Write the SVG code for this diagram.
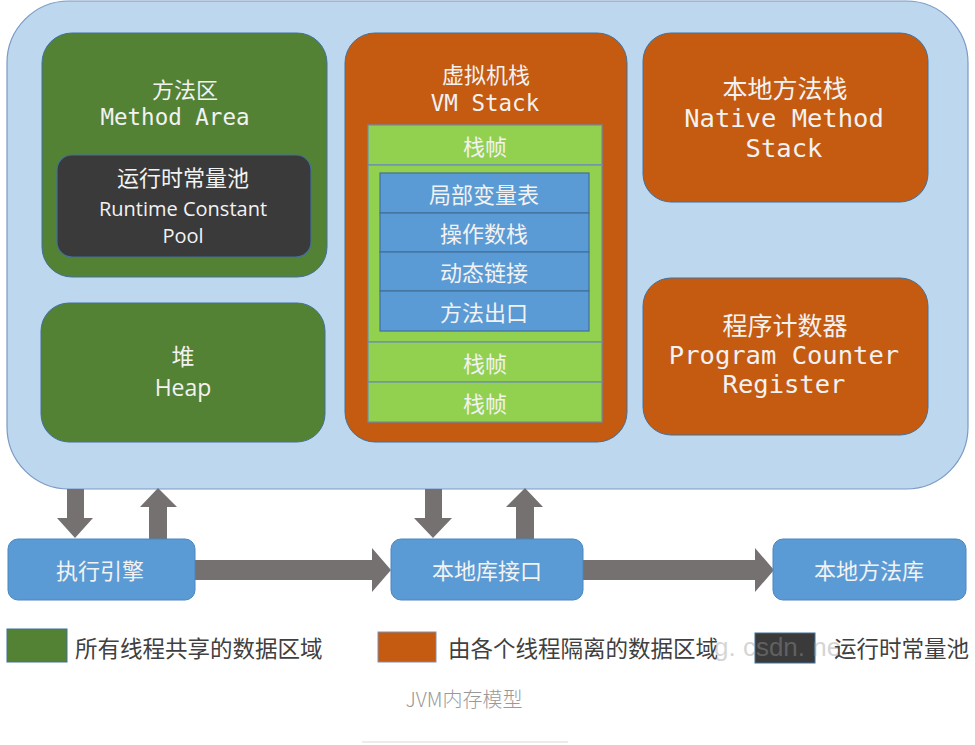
<svg xmlns="http://www.w3.org/2000/svg" width="975" height="745" viewBox="0 0 975 745">
<style>
.cjk{font-family:"Noto Sans CJK SC","Noto Sans",sans-serif;fill:#F2F2F2;text-anchor:middle}
.mono{font-family:"DejaVu Sans Mono","Liberation Mono",monospace;fill:#F2F2F2;text-anchor:middle}
.sans{font-family:"Open Sans","Liberation Sans","Noto Sans CJK SC",sans-serif;fill:#F2F2F2;text-anchor:middle}
.green{fill:#548235;stroke:#41719C;stroke-width:1}
.orange{fill:#C55A11;stroke:#41719C;stroke-width:1}
.dark{fill:#3A3A3A;stroke:#41719C;stroke-width:1.2}
.lg{fill:#92D050;stroke:#6A8DB5;stroke-width:1.2}
.blue{fill:#5B9BD5;stroke:#41719C;stroke-width:1.2}
.bbox{fill:#5B9BD5;stroke:#4A86C0;stroke-width:1}
.arrow{fill:#767171}
.legend{font-family:"Noto Sans CJK SC","Noto Sans",sans-serif;fill:#404040;font-size:22.5px}
</style>

<g id="runtime-data-area">
  <rect x="7" y="1" width="961" height="488" rx="62" ry="62" fill="#BDD7EE" stroke="#7A9AC4" stroke-width="1.2"/>
</g>

<g id="method-area">
  <rect class="green" x="42" y="33" width="285" height="244" rx="30"/>
  <text class="cjk" x="185" y="98" font-size="22">方法区</text>
  <text class="mono" x="175" y="125" font-size="22.5">Method Area</text>
</g>

<g id="runtime-constant-pool">
  <rect class="dark" x="57" y="155" width="254" height="102" rx="15"/>
  <text class="cjk" x="183" y="186" font-size="22">运行时常量池</text>
  <text class="sans" x="183" y="216" font-size="20">Runtime Constant</text>
  <text class="sans" x="183" y="243" font-size="20">Pool</text>
</g>

<g id="heap">
  <rect class="green" x="41" y="303" width="284" height="139" rx="28"/>
  <text class="cjk" x="183" y="365" font-size="23">堆</text>
  <text class="sans" x="183" y="396" font-size="23">Heap</text>
</g>

<g id="vm-stack">
  <rect class="orange" x="345" y="33" width="282" height="409" rx="30"/>
  <text class="cjk" x="486" y="83" font-size="22">虚拟机栈</text>
  <text class="mono" x="485" y="111" font-size="22.5">VM Stack</text>
</g>

<g id="stack-frame-1">
  <rect class="lg" x="368" y="125" width="234" height="40"/>
  <text class="cjk" x="485" y="145" font-size="22" dominant-baseline="central">栈帧</text>
</g>

<g id="stack-frame-current">
  <rect class="lg" x="368" y="165" width="234" height="177"/>
</g>
<g id="local-variables">
  <rect class="blue" x="380" y="173" width="209" height="40"/>
  <text class="cjk" x="484" y="193" font-size="22" dominant-baseline="central">局部变量表</text>
</g>
<g id="operand-stack">
  <rect class="blue" x="380" y="213" width="209" height="39"/>
  <text class="cjk" x="484" y="232" font-size="22" dominant-baseline="central">操作数栈</text>
</g>
<g id="dynamic-linking">
  <rect class="blue" x="380" y="252" width="209" height="39"/>
  <text class="cjk" x="484" y="271" font-size="22" dominant-baseline="central">动态链接</text>
</g>
<g id="return-address">
  <rect class="blue" x="380" y="291" width="209" height="40"/>
  <text class="cjk" x="484" y="311" font-size="22" dominant-baseline="central">方法出口</text>
</g>

<g id="stack-frame-2">
  <rect class="lg" x="368" y="342" width="234" height="40"/>
  <text class="cjk" x="485" y="362" font-size="22" dominant-baseline="central">栈帧</text>
</g>
<g id="stack-frame-3">
  <rect class="lg" x="368" y="382" width="234" height="40"/>
  <text class="cjk" x="485" y="402" font-size="22" dominant-baseline="central">栈帧</text>
</g>

<g id="native-method-stack">
  <rect class="orange" x="643" y="33" width="285" height="169" rx="28"/>
  <text class="cjk" x="785" y="98" font-size="25">本地方法栈</text>
  <text class="mono" x="784" y="127" font-size="25.5">Native Method</text>
  <text class="mono" x="784" y="157" font-size="25.5">Stack</text>
</g>

<g id="program-counter-register">
  <rect class="orange" x="643" y="278" width="285" height="157" rx="28"/>
  <text class="cjk" x="785" y="335" font-size="25">程序计数器</text>
  <text class="mono" x="784" y="364" font-size="25.5">Program Counter</text>
  <text class="mono" x="784" y="393" font-size="25.5">Register</text>
</g>

<g id="connectors">
  <polygon class="arrow" points="67,489 84,489 84,518 93,518 75,538 57,518 67,518"/>
  <polygon class="arrow" points="158,488 177,507 167,507 167,539 149,539 149,507 140,507"/>
  <polygon class="arrow" points="425,489 442,489 442,518 452,518 433,538 414,518 425,518"/>
  <polygon class="arrow" points="525,488 543,507 534,507 534,539 516,539 516,507 506,507"/>
  <polygon class="arrow" points="195,560 372,560 372,548 391,570 372,592 372,580 195,580"/>
  <polygon class="arrow" points="583,560 755,560 755,548 774,570 755,592 755,580 583,580"/>
</g>

<g id="execution-engine">
  <rect class="bbox" x="8" y="539" width="187" height="61" rx="10"/>
  <text class="cjk" x="100" y="569" font-size="22" dominant-baseline="central">执行引擎</text>
</g>
<g id="native-interface">
  <rect class="bbox" x="391" y="539" width="192" height="61" rx="10"/>
  <text class="cjk" x="487" y="569" font-size="22" dominant-baseline="central">本地库接口</text>
</g>
<g id="native-libraries">
  <rect class="bbox" x="773" y="539" width="193" height="61" rx="10"/>
  <text class="cjk" x="869" y="569" font-size="22" dominant-baseline="central">本地方法库</text>
</g>

<g id="legend">
  <rect x="7" y="629" width="60" height="33" fill="#548235" stroke="#41719C" stroke-width="1"/>
  <text class="legend" x="75" y="647" dominant-baseline="central">所有线程共享的数据区域</text>
  <rect x="378" y="632" width="58" height="30" fill="#C55A11" stroke="#7F8FB0" stroke-width="1"/>
  <text class="legend" x="448" y="647" dominant-baseline="central">由各个线程隔离的数据区域</text>
  <rect x="755" y="633" width="60" height="30" fill="#3A3A3A" stroke="#41719C" stroke-width="1"/>
  <text x="714" y="656" font-family="Liberation Sans, sans-serif" font-size="26" fill="#999999" opacity="0.4">g. csdn. ne</text>
  <text class="legend" x="834" y="647" dominant-baseline="central">运行时常量池</text>
</g>

<g id="caption">
  <text x="464" y="698" font-family="Noto Sans CJK SC, sans-serif" font-size="20" font-weight="300" fill="#999999" text-anchor="middle" dominant-baseline="central">JVM内存模型</text>
  <line x1="362" y1="742" x2="568" y2="742" stroke="#E6E6E6" stroke-width="1.5"/>
</g>
</svg>
